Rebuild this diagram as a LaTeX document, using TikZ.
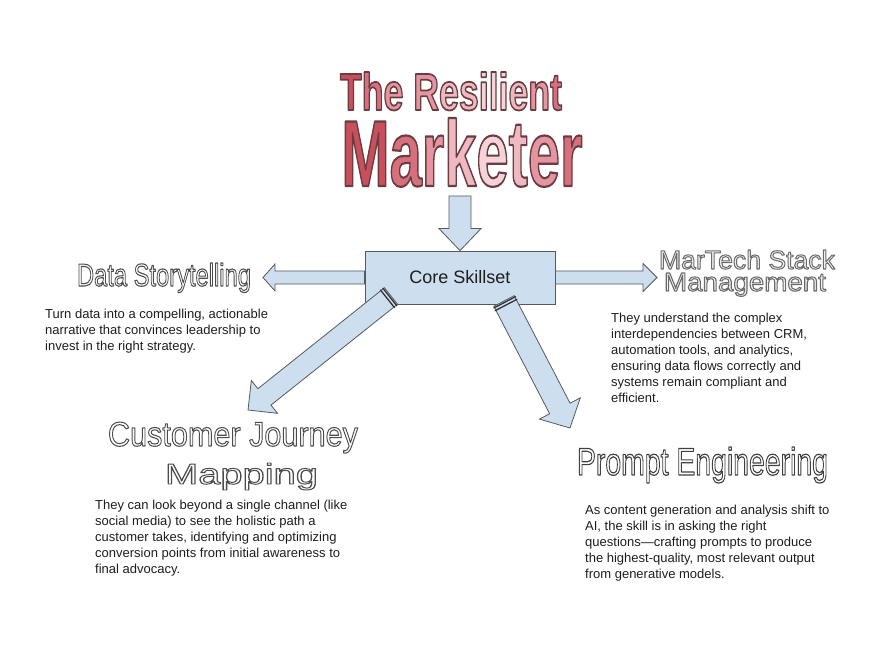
\documentclass[tikz,border=0pt]{standalone}
\usepackage{fontspec}
\setmainfont{Liberation Sans}
\usetikzlibrary{calc}
\definecolor{abfill}{RGB}{205,222,238}
\definecolor{abline}{RGB}{85,90,95}
\definecolor{bodytxt}{RGB}{30,30,30}
\definecolor{ra}{RGB}{200,80,92}
\definecolor{rb}{RGB}{214,112,124}
\definecolor{rc}{RGB}{228,150,160}
\definecolor{rd}{RGB}{238,185,192}
\definecolor{re}{RGB}{245,212,216}
% outlined text: fill colour, stroke width, stroke colour (r g b), text
\newcommand\olt[4]{\textcolor{#1}{\special{pdf:literal direct 2 Tr 1 j #2 w #3 RG}#4\special{pdf:literal direct 0 Tr}}}
\newcommand\lc[2]{\olt{#1}{1.8}{0.42 0.24 0.26}{#2}}
\newcommand\lcb[2]{\olt{#1}{2.2}{0.42 0.24 0.26}{#2}}
\newcommand\TitleOne{\resizebox{222pt}{38pt}{\fontsize{53pt}{53pt}\selectfont\bfseries\lc{ra}{T}\lc{rb}{h}\lc{rc}{e} \lc{rc}{R}\lc{rd}{e}\lc{rd}{s}\lc{re}{i}\lc{re}{l}\lc{re}{i}\lc{rd}{e}\lc{rc}{n}\lc{rb}{t}}}
\newcommand\TitleTwo{\resizebox{241pt}{68pt}{\fontsize{95pt}{95pt}\selectfont\bfseries\lcb{ra}{M}\lcb{rb}{a}\lcb{rc}{r}\lcb{rd}{k}\lcb{re}{e}\lcb{rd}{t}\lcb{rc}{e}\lcb{rb}{r}}}
\newcommand\blockarrow[6]{%
 \path let \p1=($(#2)-(#1)$) in \pgfextra{\pgfmathparse{atan2(\y1,\x1)}\xdef\baang{\pgfmathresult}\pgfmathparse{veclen(\x1,\y1)}\xdef\balen{\pgfmathresult}};
 \begin{scope}[shift={(#1)},rotate=\baang]
  \draw[barrow] (0,-#3) -- ({\balen-#5},-#3) -- ({\balen-#5},-#4) -- (\balen,0) -- ({\balen-#5},#4) -- ({\balen-#5},#3) -- (0,#3) -- cycle;
  \ifnum#6=1 \draw[tailmk] (1.5,{-#3-1}) -- (1.5,{#3+1}) (4.5,{-#3-1}) -- (4.5,{#3+1});\fi
 \end{scope}}
\begin{document}
\begin{tikzpicture}[x=1pt,y=-1pt,
  barrow/.style={draw=abline, fill=abfill, line width=0.8pt, line join=miter},
  tailmk/.style={draw=black!80, line width=1.3pt},
  body/.style={anchor=base west, inner sep=0, align=left, text=bodytxt, font=\fontsize{13pt}{16pt}\selectfont},
  head/.style={anchor=base, inner sep=0}]
\useasboundingbox[fill=white] (0,0) rectangle (891,668);

% title
\node[head] (t1) at (451,110) {\TitleOne};
\node[head] (t2) at (462,186) {\TitleTwo};

% core box
\node[draw=abline, fill=abfill, line width=0.8pt, minimum width=190pt, minimum height=53pt, inner sep=0,
  font=\fontsize{18pt}{20pt}\selectfont, text=bodytxt] (core) at (460,277.5) {Core Skillset};

% arrow end points
\coordinate (dnS) at (460,196);
\coordinate (dsT) at (263,277.5);
\coordinate (mtT) at (657,277.5);
\coordinate (dlS) at (391,296);
\coordinate (dlT) at (248,410);
\coordinate (drS) at (504,301);
\coordinate (drT) at (570,428);

\blockarrow{dnS}{core.north}{11}{21}{22}{0}
\blockarrow{core.west}{dsT}{6.5}{13.5}{12}{0}
\blockarrow{core.east}{mtT}{6.5}{14}{14}{0}
\blockarrow{dlS}{dlT}{10.5}{21}{21}{1}
\blockarrow{drS}{drT}{11.5}{23}{22}{1}

% headings
\node[head] (hds) at (164,286) {\resizebox{174pt}{23pt}{\fontsize{32pt}{32pt}\selectfont\olt{white}{1.1}{0.3 0.3 0.3}{Data Storytelling}}};
\node[head] (hmt1) at (747,269) {\resizebox{176pt}{19pt}{\fontsize{26pt}{26pt}\selectfont\olt{black!6}{1.0}{0.42 0.42 0.42}{MarTech Stack}}};
\node[head] (hmt2) at (745,291) {\resizebox{162pt}{18pt}{\fontsize{25pt}{25pt}\selectfont\olt{black!6}{1.0}{0.42 0.42 0.42}{Management}}};
\node[head] (hcj1) at (233,446) {\resizebox{250pt}{24pt}{\fontsize{33pt}{33pt}\selectfont\olt{white}{1.0}{0.3 0.3 0.3}{Customer Journey}}};
\node[head] (hcj2) at (241.5,484) {\resizebox{153pt}{21pt}{\fontsize{30pt}{30pt}\selectfont\olt{white}{1.0}{0.3 0.3 0.3}{Mapping}}};
\node[head] (hpe) at (702.5,475) {\resizebox{251pt}{28pt}{\fontsize{39pt}{39pt}\selectfont\olt{white}{1.2}{0.25 0.25 0.25}{Prompt Engineering}}};

% descriptions (anchor = baseline of last line)
\node[body] (dds) at (45,350) {Turn data into a compelling, actionable\\narrative that convinces leadership to\\invest in the right strategy.};
\node[body] (dmt) at (611,402) {They understand the complex\\interdependencies between CRM,\\automation tools, and analytics,\\ensuring data flows correctly and\\systems remain compliant and\\efficient.};
\node[body] (dcj) at (95,573) {They can look beyond a single channel (like\\social media) to see the holistic path a\\customer takes, identifying and optimizing\\conversion points from initial awareness to\\final advocacy.};
\node[body] (dpe) at (585,578) {As content generation and analysis shift to\\AI, the skill is in asking the right\\questions—crafting prompts to produce\\the highest-quality, most relevant output\\from generative models.};
\end{tikzpicture}
\end{document}
